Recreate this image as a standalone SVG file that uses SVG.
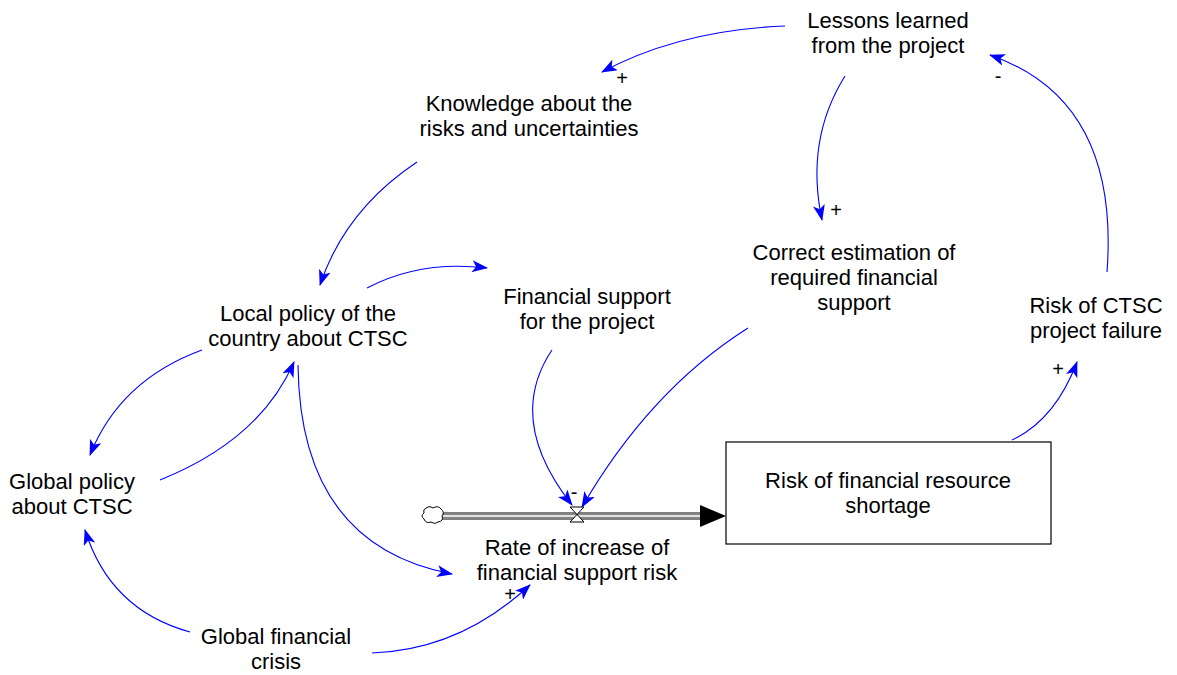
<svg xmlns="http://www.w3.org/2000/svg" width="1177" height="675" viewBox="0 0 1177 675">
<style>
text{font-family:"Liberation Sans",Arial,sans-serif;font-size:22px;fill:#000;text-anchor:middle}
.pol{font-size:20px}
.lk{fill:none;stroke:#0000ff;stroke-width:1.1;marker-end:url(#ah)}
</style>
<defs>
<marker id="ah" markerWidth="16" markerHeight="12" refX="15" refY="6" orient="auto" markerUnits="userSpaceOnUse">
<path d="M0,0 L16,6 L0,12 L4,6 Z" fill="#0000ff"/>
</marker>
</defs>
<rect width="1177" height="675" fill="#fff"/>
<g id="connectors">
<path class="lk" d="M785,26 Q680,30 602,72"/>
<path class="lk" d="M845,76 Q805,140 822,220"/>
<path class="lk" d="M1107,272 Q1120,100 990,55"/>
<path class="lk" d="M417,162 Q345,210 320,285"/>
<path class="lk" d="M367,288 Q420,260 487,268"/>
<path class="lk" d="M202,350 Q120,380 90,455"/>
<path class="lk" d="M160,480 Q260,440 294,362"/>
<path class="lk" d="M298,365 Q300,545 452,574"/>
<path class="lk" d="M190,632 Q110,610 85,530"/>
<path class="lk" d="M372,653 Q460,650 530,585"/>
<path class="lk" d="M552,350 Q505,420 572,505"/>
<path class="lk" d="M748,328 Q650,390 582,507"/>
<path class="lk" d="M1012,440 Q1055,420 1077,362"/>
<text class="pol" x="622" y="85">+</text>
<text class="pol" x="998" y="83">-</text>
<text class="pol" x="836" y="217">+</text>
<text class="pol" x="574" y="499">-</text>
<text class="pol" x="1058" y="376">+</text>
<text class="pol" x="510" y="601">+</text>
</g>
<g id="flow">
<path d="M442,513 H706 M442,519 H706" stroke="#000" stroke-width="1.2" fill="none"/>
<path d="M442,514.5 H706 M442,517.5 H706" stroke="#888" stroke-width="1.5" fill="none"/>
<path d="M700,505 L726,516 L700,527 Z" fill="#000"/>
<path d="M425,509 q4,-4 8,-1 q5,-3 8,1 q4,3 1,7 q2,5 -4,6 q-3,3 -7,0 q-5,2 -7,-3 q-4,-3 0,-6 q-1,-4 1,-4 Z" fill="#fff" stroke="#000" stroke-width="1"/>
<path d="M570,507 H584 L570,522 H584 Z" fill="#fff" stroke="#000" stroke-width="1"/>
</g>
<g id="lessons"><text x="888" y="28">Lessons learned</text><text x="888" y="53">from the project</text></g>
<g id="knowledge"><text x="529" y="111">Knowledge about the</text><text x="529" y="136">risks and uncertainties</text></g>
<g id="correct"><text x="854" y="260">Correct estimation of</text><text x="854" y="285">required financial</text><text x="854" y="310">support</text></g>
<g id="local"><text x="308" y="321">Local policy of the</text><text x="308" y="346">country about CTSC</text></g>
<g id="finsupport"><text x="587" y="304">Financial support</text><text x="587" y="329">for the project</text></g>
<g id="ctscfail"><text x="1096" y="313">Risk of CTSC</text><text x="1096" y="338">project failure</text></g>
<g id="globalpolicy"><text x="72" y="489">Global policy</text><text x="72" y="514">about CTSC</text></g>
<g id="shortage"><rect x="726" y="442" width="325" height="102" fill="#fff" stroke="#000" stroke-width="1.2"/><text x="888" y="488">Risk of financial resource</text><text x="888" y="513">shortage</text></g>
<g id="rate"><text x="577" y="555">Rate of increase of</text><text x="577" y="580">financial support risk</text></g>
<g id="crisis"><text x="276" y="644">Global financial</text><text x="276" y="669">crisis</text></g>
</svg>
